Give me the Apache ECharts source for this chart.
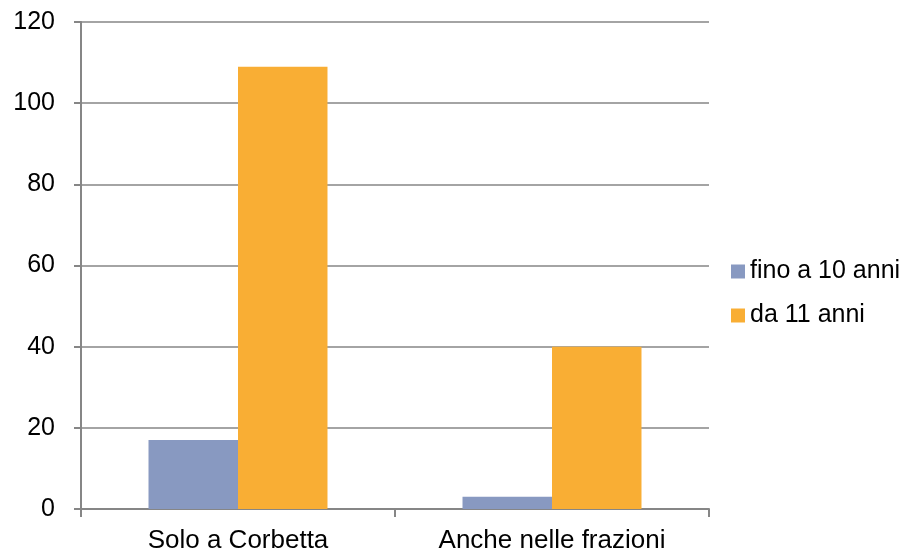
<!DOCTYPE html>
<html>
<head>
<meta charset="utf-8">
<script src="https://cdn.jsdelivr.net/npm/echarts@6/dist/echarts.min.js"></script>
<style>
  html, body { margin: 0; padding: 0; background: #fff; }
  #chart { width: 912px; height: 553px; }
</style>
</head>
<body>
<div id="chart"></div>
<script>
// dati
const categories = ['Solo a Corbetta', 'Anche nelle frazioni']
const seriesNames = ['fino a 10 anni', 'da 11 anni']
const fino10 = [17, 3]
const da11 = [109, 40]
const yTicks = [0, 20, 40, 60, 80, 100, 120]

const lineColor = '#868686'
const font = 'Liberation Sans, Arial, sans-serif'

const chart = echarts.init(document.getElementById('chart'))

const option = {
  animation: false,
  textStyle: { fontFamily: font },
  grid: {
    left: 81,
    right: 203,
    top: 22,
    bottom: 44,
    outerBoundsMode: 'none'
  },
  legend: {
    orient: 'vertical',
    left: 726,
    top: 254,
    itemWidth: 14,
    itemHeight: 14,
    itemGap: 19,
    icon: 'rect',
    data: seriesNames,
    textStyle: { fontSize: 25, color: '#000', fontFamily: font }
  },
  xAxis: {
    type: 'category',
    data: categories,
    axisLine: { lineStyle: { color: lineColor, width: 2 } },
    axisTick: { show: true, length: 8, lineStyle: { color: lineColor, width: 2 } },
    axisLabel: { fontSize: 26, color: '#000', margin: 19, fontFamily: font }
  },
  yAxis: {
    type: 'value',
    min: yTicks[0],
    max: yTicks[yTicks.length - 1],
    interval: 20,
    axisLine: { show: true, lineStyle: { color: lineColor, width: 2 } },
    axisTick: { show: true, length: 7, lineStyle: { color: lineColor, width: 2 } },
    axisLabel: { fontSize: 25, color: '#000', margin: 26, fontFamily: font },
    splitLine: { lineStyle: { color: lineColor, width: 1.5 } }
  },
  series: [
    {
      name: seriesNames[0],
      type: 'bar',
      data: fino10,
      barGap: '0%',
      barCategoryGap: '43%',
      itemStyle: { color: '#8899C1' }
    },
    {
      name: seriesNames[1],
      type: 'bar',
      data: da11,
      barGap: '0%',
      barCategoryGap: '43%',
      itemStyle: { color: '#F9AE34' }
    }
  ]
}

chart.setOption(option)
window.addEventListener('resize', () => chart.resize())
</script>
</body>
</html>
